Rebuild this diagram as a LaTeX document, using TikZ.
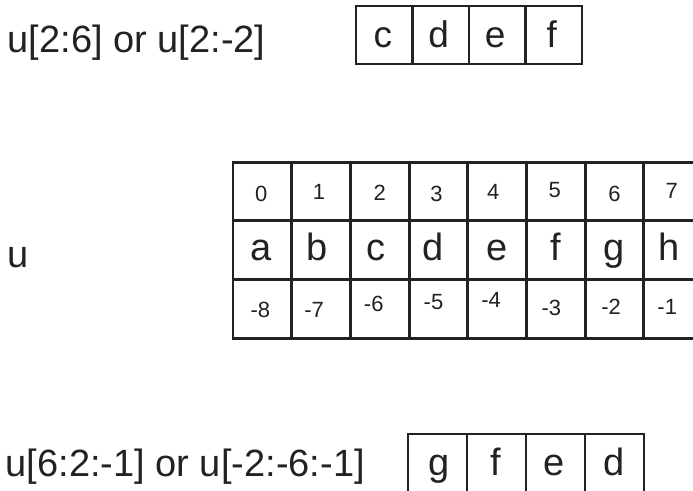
\documentclass[tikz,border=0pt]{standalone}
\usepackage{fontspec}
\setmainfont{Liberation Sans}
\definecolor{ink}{HTML}{222222}
\newcommand{\mv}[3]{\makebox[0pt]{\hspace*{#1pt}\hspace*{#1pt}\raisebox{#2pt}{#3}}}
\begin{document}
\begin{tikzpicture}[x=1pt,y=-1pt,
  cell/.style={draw=ink, line width=2.9pt, inner sep=0pt, outer sep=0pt, text=ink},
  gcell/.style={cell, minimum width=58.7pt, minimum height=58.7pt},
  tcell/.style={cell, minimum width=56.5pt, minimum height=58pt,
    font=\fontsize{37}{40}\selectfont, text height=27pt, text depth=3pt},
  bcell/.style={cell, minimum width=59pt, minimum height=59pt,
    font=\fontsize{38}{40}\selectfont, text height=27pt, text depth=4pt},
  letter/.style={gcell, font=\fontsize{38}{40}\selectfont, text height=27pt, text depth=7pt},
  num/.style={gcell, font=\fontsize{22}{24}\selectfont, text height=15.75pt, text depth=0pt},
  lbl/.style={anchor=base west, inner sep=0pt, text=ink, font=\fontsize{38}{40}\selectfont}
]
\clip (0,0) rectangle (693,490);
\fill[white] (0,0) rectangle (693,490);

% labels
\node[lbl] (l1) at (7.5,52) {u[2:6] or u[2:-2]};
\node[lbl] (l2) at (7.5,267) {u};
\node[lbl] (l3) at (5.5,476) {u[6:2:-1] or u[-2:-6:-1]};

% top slice
\node[tcell] (t1) at (384.25,35) {\mv{-1.5}{0}{c}};
\node[tcell] (t2) at (440.75,35) {\mv{-2}{0}{d}};
\node[tcell] (t3) at (497.25,35) {\mv{-2}{0}{e}};
\node[tcell] (t4) at (553.75,35) {\mv{-2}{0}{f}};

% main grid: index row
\node[num] (i0) at (262.35,191.5) {\mv{-1}{-2}{0}};
\node[num] (i1) at (321.05,191.5) {\mv{-2}{0}{1}};
\node[num] (i2) at (379.75,191.5) {\mv{0}{-1.5}{2}};
\node[num] (i3) at (438.45,191.5) {\mv{-2}{-2}{3}};
\node[num] (i4) at (497.15,191.5) {\mv{-4}{0}{4}};
\node[num] (i5) at (555.85,191.5) {\mv{-1}{1.5}{5}};
\node[num] (i6) at (614.55,191.5) {\mv{0}{-2}{6}};
\node[num] (i7) at (673.25,191.5) {\mv{-1.5}{0.5}{7}};

% letters row
\node[letter] (a) at (262.35,250.2) {\mv{-1}{0}{a}};
\node[letter] (b) at (321.05,250.2) {\mv{-4}{0}{b}};
\node[letter] (c) at (379.75,250.2) {\mv{-4}{0}{c}};
\node[letter] (d) at (438.45,250.2) {\mv{-5}{0}{d}};
\node[letter] (e) at (497.15,250.2) {\mv{0}{0}{e}};
\node[letter] (f) at (555.85,250.2) {\mv{0}{0}{f}};
\node[letter] (g) at (614.55,250.2) {\mv{0}{0}{g}};
\node[letter] (h) at (673.25,250.2) {\mv{-4}{0}{h}};

% negative index row
\node[num] (n8) at (262.35,308.9) {\mv{-2}{-1}{-8}};
\node[num] (n7) at (321.05,308.9) {\mv{-7}{-1}{-7}};
\node[num] (n6) at (379.75,308.9) {\mv{-6}{5}{-6}};
\node[num] (n5) at (438.45,308.9) {\mv{-5}{7.5}{-5}};
\node[num] (n4) at (497.15,308.9) {\mv{-6}{9}{-4}};
\node[num] (n3) at (555.85,308.9) {\mv{-4.5}{1}{-3}};
\node[num] (n2) at (614.55,308.9) {\mv{-3.5}{2.5}{-2}};
\node[num] (n1) at (673.25,308.9) {\mv{-6}{2}{-1}};

% bottom slice
\node[bcell] (r1) at (437.5,463.5) {\mv{2}{0}{g}};
\node[bcell] (r2) at (496.5,463.5) {\mv{-1}{0}{f}};
\node[bcell] (r3) at (555.5,463.5) {\mv{-1}{0}{e}};
\node[bcell] (r4) at (614.5,463.5) {\mv{0}{0}{d}};
\end{tikzpicture}
\end{document}
